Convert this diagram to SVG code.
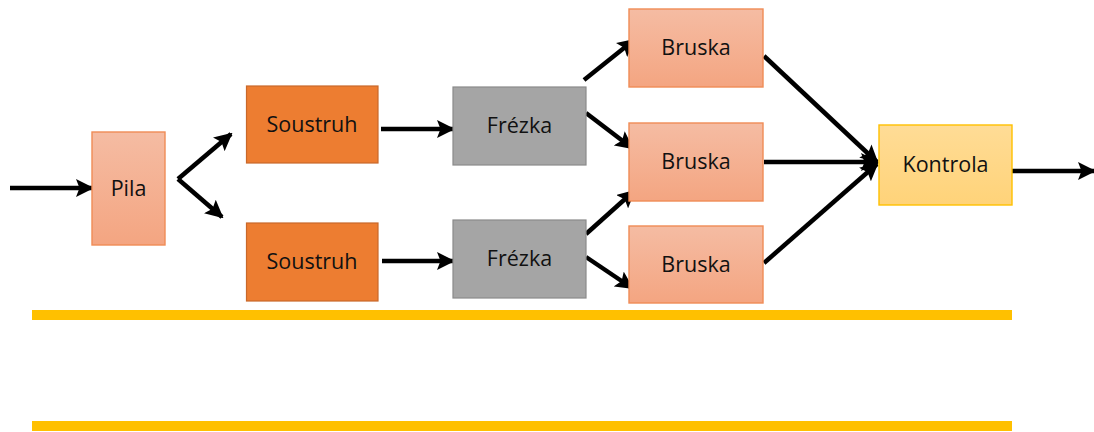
<svg xmlns="http://www.w3.org/2000/svg" width="1094" height="432" viewBox="0 0 1094 432">
  <defs>
    <linearGradient id="salmon" x1="0" y1="0" x2="0" y2="1">
      <stop offset="0" stop-color="#F5BCA3"/>
      <stop offset="1" stop-color="#F4A581"/>
    </linearGradient>
    <linearGradient id="gold" x1="0" y1="0" x2="0" y2="1">
      <stop offset="0" stop-color="#FFDC96"/>
      <stop offset="1" stop-color="#FFD379"/>
    </linearGradient>
    <marker id="head" markerUnits="userSpaceOnUse" markerWidth="18" markerHeight="18" viewBox="0 0 18 18" refX="16" refY="9" orient="auto">
      <path d="M0,0 L18,9 L0,18 L3.5,9 Z" fill="#000"/>
    </marker>
    <style>
      .lbl { font-family: "Open Sans", "Liberation Sans", sans-serif; font-size: 21.5px; fill: #111; text-anchor: middle; }
      .light { fill: url(#salmon); stroke: #F08C56; stroke-width: 1.4; }
      .lathe { fill: #ED7D31; stroke: #C9682A; stroke-width: 1.2; }
      .mill { fill: #A5A5A5; stroke: #8A8A8A; stroke-width: 1.2; }
      .check { fill: url(#gold); stroke: #FFC000; stroke-width: 1.4; }
      .flow { stroke: #000; stroke-width: 4.5; fill: none; marker-end: url(#head); }
      .rail { fill: #FFC000; }
    </style>
  </defs>

  <g id="connectors">
    <line class="flow" x1="10" y1="188" x2="92" y2="188"/>
    <line class="flow" x1="178" y1="179" x2="231" y2="134"/>
    <line class="flow" x1="178" y1="179" x2="222" y2="217"/>
    <line class="flow" x1="381" y1="129" x2="453" y2="129"/>
    <line class="flow" x1="382" y1="261" x2="453" y2="261"/>
    <line class="flow" x1="584" y1="80" x2="634" y2="40"/>
    <line class="flow" x1="586" y1="113" x2="632" y2="148"/>
    <line class="flow" x1="586" y1="234" x2="634" y2="191"/>
    <line class="flow" x1="586" y1="257" x2="632" y2="288"/>
    <line class="flow" x1="764" y1="56" x2="877" y2="162"/>
    <line class="flow" x1="764" y1="162" x2="877" y2="162"/>
    <line class="flow" x1="764" y1="263" x2="877" y2="164"/>
    <line class="flow" x1="1012" y1="171" x2="1094" y2="171"/>
  </g>

  <g id="pila">
    <rect class="light" x="92" y="132" width="73" height="113"/>
    <text class="lbl" x="128.5" y="196">Pila</text>
  </g>
  <g id="soustruh-1">
    <rect class="lathe" x="246.5" y="86" width="131.5" height="77"/>
    <text class="lbl" x="312" y="132">Soustruh</text>
  </g>
  <g id="soustruh-2">
    <rect class="lathe" x="246.5" y="223" width="131.5" height="78"/>
    <text class="lbl" x="312" y="269">Soustruh</text>
  </g>
  <g id="frezka-1">
    <rect class="mill" x="453" y="87" width="133" height="78"/>
    <text class="lbl" x="519.5" y="133">Frézka</text>
  </g>
  <g id="frezka-2">
    <rect class="mill" x="453" y="220" width="133" height="78"/>
    <text class="lbl" x="519.5" y="266">Frézka</text>
  </g>
  <g id="bruska-1">
    <rect class="light" x="629" y="9" width="134" height="78"/>
    <text class="lbl" x="696" y="55">Bruska</text>
  </g>
  <g id="bruska-2">
    <rect class="light" x="629" y="123" width="134" height="78"/>
    <text class="lbl" x="696" y="169">Bruska</text>
  </g>
  <g id="bruska-3">
    <rect class="light" x="629" y="226" width="134" height="77"/>
    <text class="lbl" x="696" y="272">Bruska</text>
  </g>
  <g id="kontrola">
    <rect class="check" x="879" y="125" width="133" height="80"/>
    <text class="lbl" x="945.5" y="172">Kontrola</text>
  </g>

  <g id="rails">
    <rect class="rail" x="32" y="310" width="980" height="10"/>
    <rect class="rail" x="32" y="421" width="980" height="10"/>
  </g>
</svg>
